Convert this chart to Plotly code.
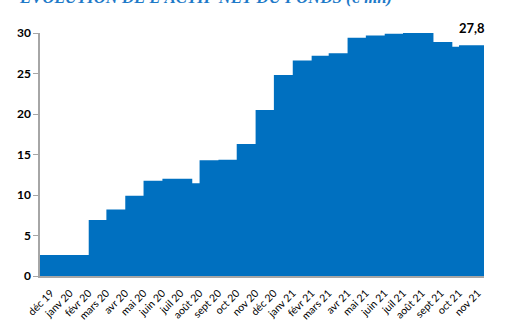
import plotly.graph_objects as go

# Step dates (value holds from date until next date)
dates = ["2019-11-13", "2020-02-01", "2020-03-01", "2020-04-01", "2020-05-01",
         "2020-06-01", "2020-07-20", "2020-08-01", "2020-09-01", "2020-10-01",
         "2020-11-01", "2020-12-01", "2021-01-01", "2021-02-01", "2021-03-01",
         "2021-04-01", "2021-05-01", "2021-06-01", "2021-07-01", "2021-08-20",
         "2021-09-20", "2021-10-01", "2021-11-11"]
values = [2.6, 6.9, 8.2, 9.9, 11.75,
          12.0, 11.45, 14.3, 14.35, 16.3,
          20.5, 24.8, 26.6, 27.2, 27.5,
          29.4, 29.7, 29.9, 30.1, 28.9,
          28.3, 28.5, 28.5]

tick_dates = ["2019-12-01", "2020-01-01", "2020-02-01", "2020-03-01", "2020-04-01",
              "2020-05-01", "2020-06-01", "2020-07-01", "2020-08-01", "2020-09-01",
              "2020-10-01", "2020-11-01", "2020-12-01", "2021-01-01", "2021-02-01",
              "2021-03-01", "2021-04-01", "2021-05-01", "2021-06-01", "2021-07-01",
              "2021-08-01", "2021-09-01", "2021-10-01", "2021-11-01"]
tick_labels = ["déc 19", "janv 20", "févr 20", "mars 20", "avr 20", "mai 20",
               "juin 20", "juil 20", "août 20", "sept 20", "oct 20", "nov 20",
               "déc 20", "janv 21", "févr 21", "mars 21", "avr 21", "mai 21",
               "juin 21", "juil 21", "août 21", "sept 21", "oct 21", "nov 21"]

last_label = "27,8"
title_text = "ÉVOLUTION DE L'ACTIF NET DU FONDS (€ mn)"

fig = go.Figure()
fig.add_trace(go.Scatter(
    x=dates, y=values, mode="lines", line=dict(shape="hv", width=0, color="#0070C0"),
    fill="tozeroy", fillcolor="#0070C0", hoverinfo="skip"))

fig.update_layout(
    width=505, height=322,
    margin=dict(l=40, r=21, t=33, b=46),
    paper_bgcolor="white", plot_bgcolor="white",
    showlegend=False,
    xaxis=dict(
        type="date", range=["2019-11-13", "2021-11-11"], automargin=False,
        tickvals=tick_dates, ticktext=tick_labels, tickangle=-45,
        ticklabelstandoff=5,
        tickfont=dict(family="Lato", size=10.5, color="#000000"),
        showgrid=False, zeroline=False, showline=True, linecolor="#A6A6A6",
        linewidth=2, ticks=""),
    yaxis=dict(
        range=[0, 30], tickvals=[0, 5, 10, 15, 20, 25, 30], automargin=False,
        tickfont=dict(family="Lato", size=12, color="#000000", weight="bold"),
        showgrid=False, zeroline=False, showline=True, linecolor="#A6A6A6",
        linewidth=1.5, ticks="outside", ticklen=5, tickcolor="#A6A6A6"),
    annotations=[
        dict(text="<b>" + last_label + "</b>", xref="paper", yref="paper",
             x=1.007, y=1.063, showarrow=False,
             font=dict(family="Lato", size=13, color="#000000")),
        dict(text="<b><i>" + title_text + "</i></b>", xref="paper", yref="paper",
             x=(205 - 40) / 444, y=(276 - 9) / 243, yanchor="bottom", xanchor="center",
             showarrow=False,
             font=dict(family="Liberation Serif", size=16.8, color="#1E7AC8")),
    ],
)

fig.write_html("out.html")
